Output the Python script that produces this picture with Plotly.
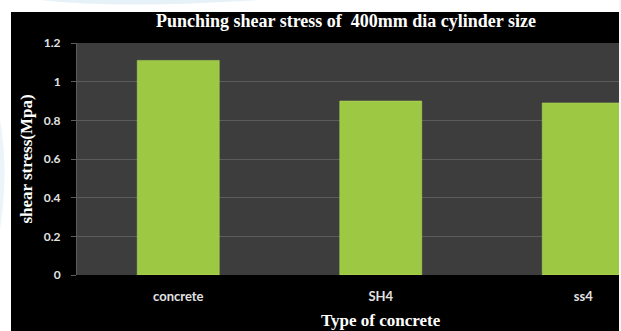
import plotly.graph_objects as go

# Punching shear stress per concrete type
categories = ["concrete", "SH4", "ss4"]
shear_stress = [1.11, 0.90, 0.89]
y_ticks = [0, 0.2, 0.4, 0.6, 0.8, 1.0, 1.2]
y_tick_labels = ["0", "0.2", "0.4", "0.6", "0.8", "1", "1.2"]

W, H = 621, 331
ML, MR, MT, MB = 77, 0, 43, 56
PW, PH = W - ML - MR, H - MT - MB


def px(x):
    return (x - ML) / PW


def py(y):
    return (H - MB - y) / PH


fig = go.Figure(
    go.Bar(
        x=categories,
        y=shear_stress,
        marker=dict(color="#9dc843", line=dict(color="#b5dc62", width=0.5)),
        hoverinfo="x+y",
    )
)

shapes = [
    # white page margins around the dark chart frame
    dict(type="rect", xref="paper", yref="paper", layer="above",
         x0=px(0), x1=px(11), y0=py(H), y1=py(0),
         fillcolor="white", line_width=0),
    dict(type="rect", xref="paper", yref="paper", layer="above",
         x0=px(0), x1=px(W), y0=py(12), y1=py(0),
         fillcolor="white", line_width=0),
    dict(type="rect", xref="paper", yref="paper", layer="above",
         x0=px(619), x1=px(W), y0=py(H), y1=py(0),
         fillcolor="#f4f6f7", line_width=0),
    # faint watermark swoosh in the margin
    dict(type="path", xref="paper", yref="paper", layer="above",
         path=f"M {px(40)},{py(0)} Q {px(120)},{py(9)} {px(260)},{py(0)} Z",
         fillcolor="#e6f2f8", line_width=0),
    dict(type="path", xref="paper", yref="paper", layer="above",
         path=f"M {px(0)},{py(120)} Q {px(9)},{py(170)} {px(0)},{py(230)} Z",
         fillcolor="#eaf4f9", line_width=0),
]

fig.update_layout(
    width=W,
    height=H,
    margin=dict(l=ML, r=MR, t=MT, b=MB, pad=0),
    paper_bgcolor="black",
    plot_bgcolor="#3d3d3d",
    showlegend=False,
    bargap=0.595,
    shapes=shapes,
    title=dict(
        text="Punching shear stress of  400mm dia cylinder size",
        font=dict(family="Liberation Serif", size=18, color="white", weight="bold"),
        x=px(346), xanchor="center", xref="paper",
        y=1 - 21 / H, yanchor="middle",
    ),
    annotations=[
        dict(
            text="Type of concrete", xref="paper", yref="paper",
            x=px(381), y=py(320), xanchor="center", yanchor="middle",
            showarrow=False,
            font=dict(family="Liberation Serif", size=17, color="white", weight="bold"),
        )
    ],
)

fig.update_xaxes(
    range=[-0.5, -0.5 + PW / 202.5],
    showgrid=False,
    showline=False,
    ticks="",
    tickfont=dict(family="Lato", size=13, color="#e2e2e2", weight="bold"),
    ticklabelstandoff=12,
    fixedrange=True,
)

fig.update_yaxes(
    range=[0, 1.2],
    tickvals=y_ticks,
    ticktext=y_tick_labels,
    showgrid=True,
    gridcolor="#5c5c5c",
    gridwidth=1,
    zeroline=False,
    showline=True,
    linecolor="#5c5c5c",
    ticks="outside",
    ticklen=5,
    tickcolor="#5c5c5c",
    tickfont=dict(family="Lato", size=12, color="#e2e2e2", weight="bold"),
    ticklabelstandoff=8,
    title=dict(
        text="shear stress(Mpa)",
        font=dict(family="Liberation Serif", size=17, color="white", weight="bold"),
        standoff=6,
    ),
    fixedrange=True,
)

fig.write_html("out.html")
